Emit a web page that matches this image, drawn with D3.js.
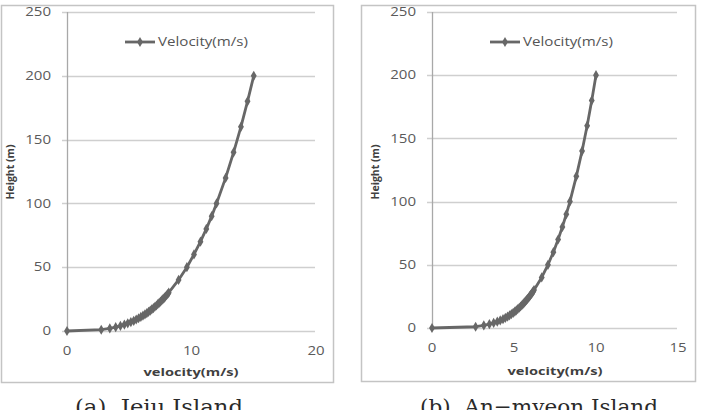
<!DOCTYPE html>
<html><head><meta charset="utf-8">
<script src="https://cdn.jsdelivr.net/npm/d3@7"></script>
<style>
html,body{margin:0;padding:0;background:#fff;}
svg{display:block;}
</style></head>
<body>
<svg id="c" width="703" height="410"></svg>
<script>
// ---- data ----
const heights = [0,1,2,3,4,5,6,7,8,9,10,11,12,13,14,15,16,17,18,19,20,21,22,23,24,25,26,27,28,29,30,40,50,60,70,80,90,100,120,140,160,180,200];
const jejuVelocity = [0,2.75,3.44,3.91,4.29,4.61,4.88,5.13,5.36,5.56,5.75,5.93,6.10,6.26,6.41,6.55,6.69,6.81,6.94,7.06,7.18,7.29,7.40,7.51,7.61,7.71,7.81,7.90,8.00,8.09,8.17,8.96,9.63,10.20,10.72,11.19,11.62,12.01,12.74,13.38,13.97,14.50,15.00];
const anmyeonVelocity = [0,2.66,3.16,3.50,3.76,3.98,4.16,4.33,4.47,4.61,4.73,4.84,4.95,5.05,5.14,5.23,5.32,5.40,5.48,5.55,5.62,5.69,5.76,5.82,5.89,5.95,6.00,6.06,6.12,6.17,6.22,6.69,7.07,7.40,7.69,7.95,8.19,8.41,8.80,9.15,9.46,9.74,10.00];
const yTicks = [0,50,100,150,200,250];
const xTicksJeju = [0,10,20];
const xTicksAnmyeon = [0,5,10,15];
const seriesName = "Velocity(m/s)";
const xTitle = "velocity(m/s)";
const yTitle = "Height (m)";
const captions = ["(a)\u00a0\u00a0Jeju Island","(b)\u00a0\u00a0An\u2212myeon Island"];

const svg = d3.select("#c");
const sans = "'Open Sans', 'Liberation Sans', sans-serif";
const serif = "'DejaVu Serif', 'Liberation Serif', serif";
const lineColor = "#676767";

function panel(o){
  const g = svg.append("g");
  // frame
  g.append("rect").attr("x",o.fx0+0.5).attr("y",o.fy0+0.5)
    .attr("width",o.fx1-o.fx0).attr("height",o.fy1-o.fy0)
    .attr("fill","#fff").attr("stroke","#c4c4c4").attr("stroke-width",1.5);
  const x = d3.scaleLinear().domain([0,o.xmax]).range([o.px0,o.px1]);
  const y = d3.scaleLinear().domain([0,250]).range([o.py0,o.py1]);
  // gridlines
  g.selectAll("line.grid").data(yTicks).enter().append("line")
    .attr("x1",o.px0-5).attr("x2",o.gridEnd)
    .attr("y1",d=>Math.round(y(d))+0.5).attr("y2",d=>Math.round(y(d))+0.5)
    .attr("stroke","#cfcfcf").attr("stroke-width",1.3);
  // y axis line
  g.append("line").attr("x1",o.px0+0.5).attr("x2",o.px0+0.5)
    .attr("y1",y(250)).attr("y2",y(0)).attr("stroke","#a8a8a8").attr("stroke-width",1.3);
  // y tick labels
  g.selectAll("text.yt").data(yTicks).enter().append("text")
    .attr("x",o.ylabX).attr("y",d=>y(d)).attr("dy","0.35em")
    .attr("text-anchor","end").attr("font-family",sans).attr("font-size",12)
    .attr("textLength",d=>String(d).length*8.6).attr("lengthAdjust","spacingAndGlyphs")
    .attr("fill","#5a5a5a").text(d=>d);
  // x tick labels
  g.selectAll("text.xt").data(o.xticks).enter().append("text")
    .attr("x",d=>x(d)).attr("y",o.xlabY).attr("dy","0.35em")
    .attr("text-anchor","middle").attr("font-family",sans).attr("font-size",12)
    .attr("textLength",d=>String(d).length*8.6).attr("lengthAdjust","spacingAndGlyphs")
    .attr("fill","#5a5a5a").text(d=>d);
  // axis titles
  g.append("text").attr("x",o.xTitleX).attr("y",o.xTitleY).attr("dy","0.35em")
    .attr("text-anchor","middle").attr("font-family",sans).attr("font-size",11)
    .attr("textLength",95).attr("lengthAdjust","spacingAndGlyphs")
    .attr("font-weight","bold").attr("fill","#404040").text(xTitle);
  g.append("text").attr("transform",`translate(${o.yTitleX},${o.yTitleY}) rotate(-90)`)
    .attr("dy","0.35em").attr("text-anchor","middle").attr("font-family",sans)
    .attr("textLength",55).attr("lengthAdjust","spacingAndGlyphs")
    .attr("font-size",10.5).attr("font-weight","bold").attr("fill","#404040").text(yTitle);
  // series
  const pts = heights.map((h,i)=>[o.vals[i],h]);
  g.append("path").datum(pts)
    .attr("d",d3.line().x(d=>x(d[0])).y(d=>y(d[1])))
    .attr("fill","none").attr("stroke",lineColor).attr("stroke-width",2.8)
    .attr("stroke-linejoin","round");
  const sym = d3.symbol().type(d3.symbolDiamond).size(30);
  g.selectAll("path.m").data(pts).enter().append("path")
    .attr("transform",d=>`translate(${x(d[0])},${y(d[1])})`)
    .attr("d",sym).attr("fill",lineColor);
  // legend
  g.append("line").attr("x1",o.legX).attr("x2",o.legX+30).attr("y1",o.legY).attr("y2",o.legY)
    .attr("stroke",lineColor).attr("stroke-width",2.8);
  g.append("path").attr("transform",`translate(${o.legX+15},${o.legY})`).attr("d",sym).attr("fill",lineColor);
  g.append("text").attr("x",o.legX+33).attr("y",o.legY).attr("dy","0.35em")
    .attr("font-family",sans).attr("font-size",12.5).attr("fill","#555")
    .attr("textLength",90).attr("lengthAdjust","spacingAndGlyphs").text(seriesName);
  // caption
  g.append("text").attr("x",o.capX).attr("y",o.capY).attr("text-anchor","middle")
    .attr("font-family",serif).attr("font-size",21).attr("fill","#2a2a2a")
    .attr("textLength",o.capW).attr("lengthAdjust","spacingAndGlyphs")
    .text(o.caption);
}

panel({fx0:1,fx1:333,fy0:5,fy1:382,px0:67,px1:316,gridEnd:315,py0:331,py1:12,xmax:20,
  xticks:xTicksJeju,vals:jejuVelocity,ylabX:51,xlabY:351,xTitleX:191,xTitleY:372,yTitleX:10,yTitleY:172,
  legX:125,legY:42,capX:159,capY:414,capW:168,caption:captions[0]});
panel({fx0:361,fx1:695,fy0:5,fy1:381,px0:432,px1:678,gridEnd:677,py0:328,py1:12,xmax:15,
  xticks:xTicksAnmyeon,vals:anmyeonVelocity,ylabX:416,xlabY:348,xTitleX:555,xTitleY:371,yTitleX:375,yTitleY:172,
  legX:490,legY:42,capX:539,capY:414,capW:238,caption:captions[1]});
</script>
</body></html>
